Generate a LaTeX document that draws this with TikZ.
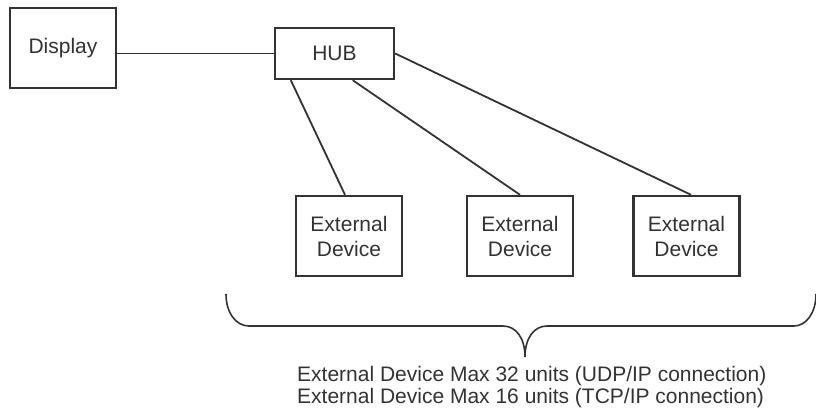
\documentclass[tikz,border=0pt]{standalone}
\usepackage{fontspec}
\setmainfont{Liberation Sans}
\usetikzlibrary{calc}
\definecolor{ink}{HTML}{333333}
\begin{document}
\begin{tikzpicture}[x=1pt,y=-1pt,
  box/.style={draw=ink,line width=2.4pt,fill=white,inner sep=0pt,align=center,
    font=\fontsize{21}{25}\selectfont,text=ink},
  wire/.style={draw=ink,line width=1.8pt},
  note/.style={font=\fontsize{21}{25}\selectfont,text=ink,inner sep=0pt,anchor=base west}]
\useasboundingbox (0,0) rectangle (816,416);
\node[box,minimum width=106pt,minimum height=80pt] (display) at (63,48) {Display};
\node[box,minimum width=119pt,minimum height=51pt] (hub) at (334.5,53.5) {HUB};
\node[box,minimum width=106pt,minimum height=80pt] (ext1) at (349,236) {External\\Device};
\node[box,minimum width=106pt,minimum height=80pt] (ext2) at (520,236) {External\\Device};
\node[box,minimum width=106pt,minimum height=80pt] (ext3) at (686.5,236) {External\\Device};
\draw[wire] (hub.west) -- (hub.west -| display.east);
\draw[wire] ($(hub.south west)!0.14!(hub.south east)$) -- ($(ext1.north)+(-4,0)$);
\draw[wire] ($(hub.south west)!0.65!(hub.south east)$) -- (ext2.north);
\draw[wire] (hub.east) -- ($(ext3.north)+(4.5,0)$);
\coordinate (bl) at (226,294);
\coordinate (br) at (816,294);
\coordinate (tip) at (525,357);
\draw[wire,line width=1.6pt] (bl) .. controls (226,313) and (236,326) .. (249,326)
  -- (503,326) .. controls (516,326) and (525,338) .. (tip)
  .. controls (525,338) and (534,326) .. (547,326)
  -- (794,326) .. controls (806,326) and (816,313) .. (br);
\node[note] (l1) at (297,381) {External Device Max 32 units (UDP/IP connection)};
\node[note] (l2) at (297,403) {External Device Max 16 units (TCP/IP connection)};
\end{tikzpicture}
\end{document}
